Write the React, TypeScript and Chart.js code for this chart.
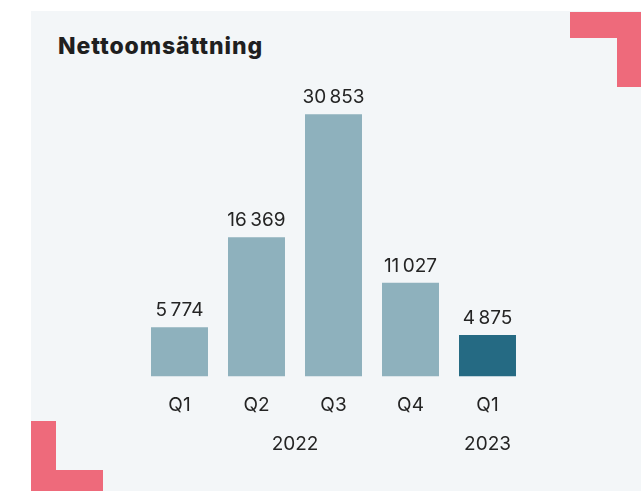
import React, { useEffect, useRef } from "react";
import { Chart, registerables } from "chart.js";

Chart.register(...registerables);

const quarters = ["Q1", "Q2", "Q3", "Q4", "Q1"];
const years = ["2022", "2022", "2022", "2022", "2023"];
const revenue = [5774, 16369, 30853, 11027, 4875];
const barColors = ["#8eb1bd", "#8eb1bd", "#8eb1bd", "#8eb1bd", "#256a83"];
const title = "Nettoomsättning";

const FONT = "Inter, 'Noto Sans', sans-serif";
const TEXT = "#242424";

function fmt(v: number): string {
  return String(v).replace(/\B(?=(\d{3})+(?!\d))/g, "\u2009");
}

// group year labels: center index of each run of same year
function yearGroups() {
  const out: { label: string; center: number }[] = [];
  let start = 0;
  for (let i = 1; i <= years.length; i++) {
    if (i === years.length || years[i] !== years[start]) {
      out.push({ label: years[start], center: (start + i - 1) / 2 });
      start = i;
    }
  }
  return out;
}

const valueLabels = {
  id: "valueLabels",
  afterDatasetsDraw(chart: any) {
    const ctx = chart.ctx;
    const meta = chart.getDatasetMeta(0);
    ctx.save();
    ctx.font = `400 19px ${FONT}`;
    ctx.fillStyle = TEXT;
    ctx.textAlign = "center";
    ctx.textBaseline = "alphabetic";
    meta.data.forEach((bar: any, i: number) => {
      ctx.fillText(fmt(revenue[i]), bar.x, bar.y - 11);
    });
    ctx.restore();
  },
};

export default function App() {
  const ref = useRef<HTMLCanvasElement>(null);
  useEffect(() => {
    if (!ref.current) return;
    const groups = yearGroups();
    const chart = new Chart(ref.current, {
      type: "bar",
      data: {
        labels: quarters,
        datasets: [
          {
            data: revenue,
            backgroundColor: barColors,
            borderWidth: 0,
            barPercentage: 0.74,
            categoryPercentage: 1,
          },
        ],
      },
      options: {
        animation: false,
        responsive: false,
        events: [],
        layout: { padding: { left: 141, right: 115, top: 79, bottom: 35 } },
        plugins: { legend: { display: false }, tooltip: { enabled: false }, title: { display: false } },
        scales: {
          y: { display: false, min: 0, max: 35000 },
          x: {
            weight: 1,
            grid: { display: false, drawTicks: false },
            border: { display: false },
            ticks: { color: TEXT, font: { family: FONT, size: 19 }, padding: 17 },
          },
          x2: {
            type: "linear",
            position: "bottom",
            weight: 2,
            offset: false,
            min: -0.5,
            max: quarters.length - 0.5,
            grid: { display: false, drawTicks: false, offset: false },
            border: { display: false },
            afterBuildTicks: (axis: any) => {
              axis.ticks = groups.map((g) => ({ value: g.center }));
            },
            ticks: {
              autoSkip: false,
              color: TEXT,
              font: { family: FONT, size: 19 },
              padding: 0,
              callback: (v: any) => {
                const g = groups.find((x) => x.center === v);
                return g ? g.label : "";
              },
            },
          },
        },
      },
      plugins: [valueLabels],
    });
    return () => chart.destroy();
  }, []);

  return (
    <div style={{ position: "fixed", left: 0, top: 0, width: 641, height: 491, background: "#ffffff", overflow: "hidden" }}>
      <div style={{ position: "absolute", left: 31, top: 11, right: 0, bottom: 0, background: "#f3f6f8" }} />
      <div style={{ position: "absolute", left: 570, top: 12, width: 71, height: 26, background: "#ee6a7b" }} />
      <div style={{ position: "absolute", left: 617, top: 12, width: 24, height: 75, background: "#ee6a7b" }} />
      <div style={{ position: "absolute", left: 31, top: 421, width: 25, height: 70, background: "#ee6a7b" }} />
      <div style={{ position: "absolute", left: 31, top: 470, width: 72, height: 21, background: "#ee6a7b" }} />
      <div
        style={{
          position: "absolute",
          left: 58,
          top: 33,
          fontFamily: FONT,
          fontWeight: 800,
          fontSize: 23,
          letterSpacing: "0.9px",
          lineHeight: "26px",
          color: "#1f1f1f",
          whiteSpace: "nowrap",
        }}
      >
        {title}
      </div>
      <canvas ref={ref} width={641} height={491} style={{ position: "absolute", left: 0, top: 0, width: 641, height: 491 }} />
    </div>
  );
}
